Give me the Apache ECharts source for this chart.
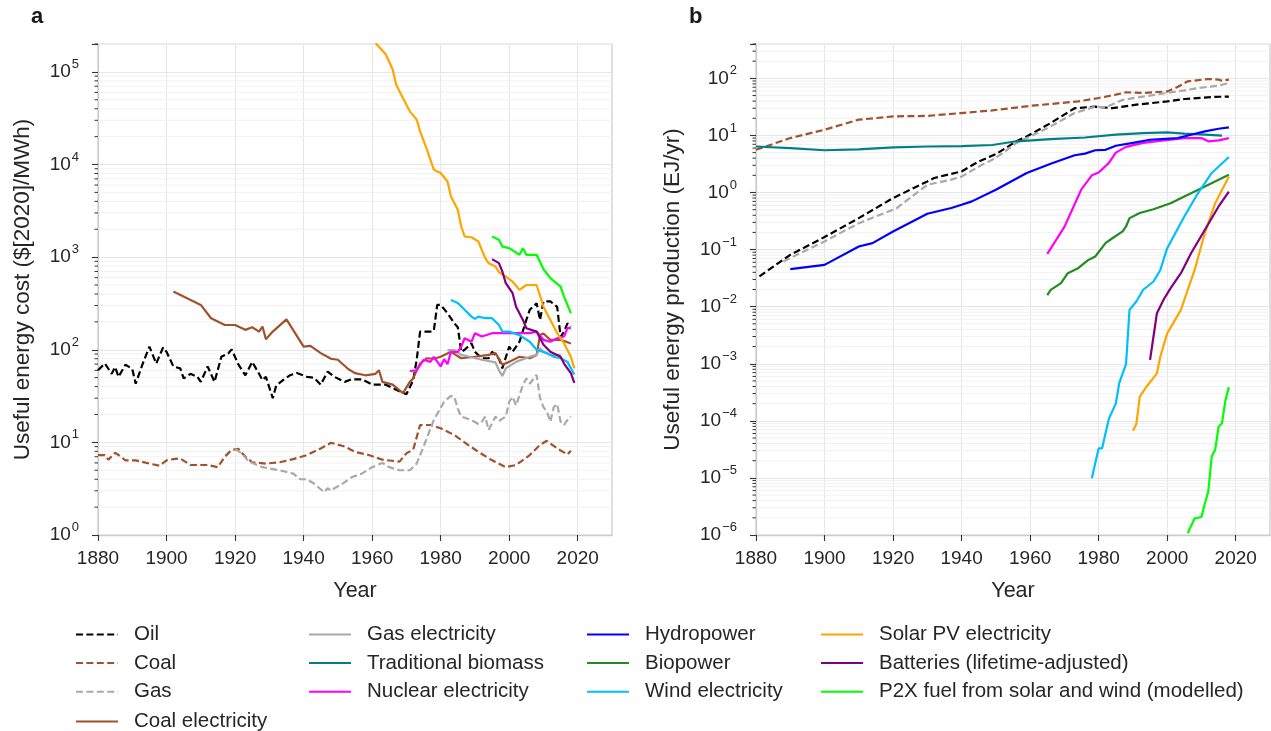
<!DOCTYPE html>
<html>
<head>
<meta charset="utf-8">
<script src="https://cdn.jsdelivr.net/npm/echarts@6/dist/echarts.min.js"></script>
<style>
html,body{margin:0;padding:0;background:#ffffff;}
#chart{width:1271px;height:731px;}
</style>
</head>
<body>
<div id="chart"></div>
<script>
// ---------------- Data ----------------
const xTickYears = [1880, 1900, 1920, 1940, 1960, 1980, 2000, 2020];

// Panel a: useful energy cost ($[2020]/MWh)
const costOil = [[1880,60],[1882,71],[1884,55],[1885,65],[1886,51],[1888,69],[1890,62],[1891,43],[1893,70],[1895,108],[1897,71],[1899,106],[1900,95],[1902,66],[1904,63],[1905,49],[1907,55],[1909,51],[1910,45],[1912,66],[1914,45],[1916,84],[1918,91],[1919,101],[1921,69],[1923,53],[1925,74],[1927,55],[1928,47],[1929,51],[1931,30],[1932,41],[1934,47],[1936,53],[1938,56],[1941,51],[1943,50],[1945,42],[1947,58],[1949,51],[1952,45],[1954,48],[1957,48],[1960,42],[1964,42],[1967,37],[1970,33],[1972,47],[1973,78],[1974,157],[1977,157],[1978,160],[1979,305],[1980,305],[1982,248],[1984,193],[1985,175],[1986,95],[1987,100],[1989,117],[1990,95],[1992,81],[1994,81],[1995,95],[1997,80],[1998,63],[2000,108],[2001,95],[2003,122],[2005,210],[2006,270],[2008,318],[2009,210],[2010,333],[2012,333],[2014,290],[2015,138],[2016,157],[2017,193],[2018,178]];
const costCoal = [[1880,7.3],[1882,7.3],[1883,6.5],[1885,7.7],[1886,7.3],[1888,6.4],[1891,6.4],[1895,5.9],[1898,5.6],[1900,6.4],[1902,6.6],[1904,6.7],[1907,5.7],[1912,5.7],[1915,5.4],[1917,7.0],[1919,8.3],[1921,8.5],[1923,7.0],[1925,6.1],[1929,5.9],[1933,6.1],[1937,6.6],[1941,7.3],[1945,8.6],[1948,9.9],[1952,9.0],[1955,7.9],[1959,7.3],[1963,6.5],[1968,6.2],[1970,7.6],[1972,8.4],[1974,15.4],[1977,15.4],[1980,14.2],[1984,12],[1988,9.4],[1991,7.9],[1995,6.4],[1999,5.4],[2002,5.7],[2006,7.3],[2009,9.4],[2011,10.4],[2014,8.6],[2017,7.4],[2018,8.1]];
const costGas = [[1920,8.5],[1922,7.6],[1924,6.2],[1928,5.4],[1933,5.0],[1937,4.6],[1939,4.0],[1941,4.0],[1943,3.6],[1946,2.9],[1947,3.2],[1948,3.0],[1949,3.2],[1951,3.5],[1954,4.2],[1957,4.6],[1960,5.4],[1963,6.0],[1965,5.4],[1968,5.0],[1971,5.0],[1973,5.9],[1975,9],[1978,17.4],[1981,27.5],[1983,31.7],[1984,31],[1985,23],[1986,19],[1989,17.4],[1991,15.8],[1992,16.7],[1993,19],[1994,13.6],[1996,19],[1997,17],[1999,19],[2000,27.5],[2001,31],[2002,25],[2004,41.6],[2005,49],[2006,43],[2008,53.5],[2009,30],[2010,24],[2011,21.5],[2012,16.7],[2013,24],[2014,26],[2015,16.7],[2016,15.4],[2017,17.5],[2018,19]];
const costCoalElec = [[1902,425],[1910,305],[1913,219],[1917,185],[1920,185],[1923,164],[1925,175],[1927,157],[1928,178],[1929,130],[1931,157],[1935,213],[1940,108],[1942,110],[1945,92],[1948,80],[1950,78],[1953,62],[1955,56],[1958,53],[1961,55],[1962,60],[1963,45],[1966,42],[1969,34],[1971,45],[1972,49],[1973,60],[1974,71],[1976,81],[1978,80],[1980,84],[1983,95],[1986,81],[1990,84],[1994,88],[1996,92],[1998,69],[2000,74],[2003,84],[2006,81],[2008,88],[2009,144],[2010,150],[2012,128],[2015,128],[2018,117]];
const costGasElec = [[1982,99],[1984,99],[1986,88],[1989,83],[1992,78],[1996,73],[1997,60],[1998,52],[1999,63],[2002,74],[2006,84],[2008,88],[2009,104],[2010,95],[2012,88],[2015,88]];
const costNuclear = [[1971,59],[1973,60],[1975,78],[1977,74],[1978,84],[1980,66],[1981,79],[1982,70],[1983,95],[1985,95],[1986,108],[1987,133],[1989,122],[1990,151],[1992,139],[1995,151],[1998,151],[2002,151],[2006,151],[2008,157],[2010,128],[2012,122],[2014,133],[2016,139],[2017,171],[2018,171]];
const costWind = [[1983,345],[1985,320],[1987,270],[1989,228],[1990,215],[1991,228],[1993,219],[1995,219],[1997,185],[1998,157],[2000,157],[2003,144],[2006,122],[2008,100],[2011,92],[2013,84],[2015,81],[2017,74],[2019,54]];
const costSolar = [[1961,205000],[1964,154000],[1966,106000],[1967,73000],[1969,52000],[1971,37500],[1973,30500],[1974,22800],[1976,14450],[1978,8790],[1980,8090],[1982,6560],[1983,4520],[1985,3240],[1986,2140],[1987,1670],[1989,1640],[1991,1475],[1993,975],[1994,861],[1996,791],[1997,690],[1999,617],[2001,545],[2003,443],[2005,500],[2008,500],[2010,292],[2012,210],[2014,151],[2016,117],[2018,84],[2019,63]];
const costBatteries = [[1995,951],[1997,861],[1998,700],[1999,523],[2001,408],[2002,292],[2004,210],[2005,171],[2008,157],[2010,113],[2012,95],[2015,84],[2016,71],[2018,56],[2019,44]];
const costP2X = [[1995,1670],[1997,1540],[1998,1300],[2000,1250],[2003,1060],[2004,1250],[2005,1060],[2008,1060],[2010,740],[2012,593],[2015,481],[2016,375],[2018,248]];

// Panel b: useful energy production (EJ/yr)
const prodOil = [[1881,0.034],[1890,0.081],[1900,0.166],[1910,0.356],[1920,0.8],[1930,1.56],[1932,1.8],[1940,2.34],[1945,3.5],[1950,4.7],[1956,7.9],[1959,9.6],[1966,16.5],[1973,30],[1979,32],[1984,30],[1991,34.6],[2000,39.5],[2005,43.5],[2013,47.2],[2018,48]];
const prodCoal = [[1880,5.6],[1890,9],[1900,12.6],[1910,18.9],[1920,21.6],[1930,22],[1940,24.7],[1949,27.5],[1960,33],[1969,37],[1974,39.5],[1980,45.3],[1985,51.8],[1988,57],[1993,55.5],[2000,59],[2003,70.6],[2006,88.7],[2012,97.5],[2015,95],[2016,91],[2018,95]];
const prodGas = [[1888,0.062],[1890,0.071],[1900,0.139],[1910,0.29],[1920,0.5],[1921,0.53],[1930,1.37],[1937,1.68],[1940,1.9],[1946,3.07],[1949,3.76],[1952,4.9],[1956,7.4],[1959,9],[1966,14.4],[1973,24.7],[1979,32],[1982,31],[1987,42],[1993,48],[2000,55.5],[2005,61.6],[2009,67.8],[2015,74.5],[2018,83]];
const prodBiomass = [[1880,6.4],[1890,6.0],[1900,5.5],[1910,5.7],[1920,6.2],[1930,6.4],[1940,6.5],[1949,6.8],[1956,7.9],[1966,8.65],[1976,9.2],[1985,10.3],[1993,11],[2000,11.3],[2005,10.8],[2011,10.3],[2016,9.9]];
const prodNuclear = [[1965,0.084],[1970,0.25],[1975,1.15],[1978,2.0],[1980,2.24],[1983,3.3],[1985,5.0],[1988,6.3],[1993,7.4],[1999,8.2],[2005,9],[2010,9],[2012,7.9],[2015,8.2],[2018,9]];
const prodHydro = [[1890,0.0455],[1900,0.054],[1910,0.1135],[1914,0.13],[1920,0.208],[1930,0.425],[1937,0.535],[1940,0.61],[1943,0.7],[1950,1.12],[1959,2.2],[1966,3.2],[1973,4.5],[1976,4.8],[1979,5.5],[1982,5.6],[1985,6.6],[1990,7.4],[1995,8.4],[2003,9],[2007,10.3],[2011,11.8],[2015,13.1],[2018,13.8]];
const prodBiopower = [[1965,0.016],[1966,0.0197],[1969,0.0258],[1971,0.0387],[1974,0.0473],[1977,0.066],[1979,0.0757],[1982,0.13],[1984,0.158],[1987,0.208],[1988,0.254],[1989,0.356],[1992,0.437],[1996,0.51],[2001,0.65],[2005,0.85],[2011,1.28],[2015,1.68],[2018,2.05]];
const prodWind = [[1978,9.9e-6],[1980,3.3e-5],[1981,3.3e-5],[1983,1.1e-4],[1985,2.0e-4],[1986,4.6e-4],[1988,1.0e-3],[1989,8.8e-3],[1991,0.0123],[1993,0.0198],[1996,0.0276],[1998,0.044],[2000,0.106],[2005,0.381],[2009,0.98],[2013,2.2],[2018,4.19]];
const prodSolar = [[1990,6.7e-5],[1991,8.8e-5],[1992,2.66e-4],[1994,4e-4],[1997,6.8e-4],[1998,1.34e-3],[2000,3.4e-3],[2004,8.8e-3],[2006,0.0198],[2008,0.044],[2011,0.195],[2014,0.65],[2018,1.9]];
const prodBatteries = [[1995,1.17e-3],[1996,3e-3],[1997,7.7e-3],[1999,0.0135],[2001,0.0211],[2004,0.0387],[2007,0.087],[2011,0.223],[2015,0.57],[2018,1.04]];
const prodP2X = [[2006,1.07e-6],[2008,1.96e-6],[2010,2.07e-6],[2011,3.6e-6],[2012,5.8e-6],[2013,2.4e-5],[2014,3.1e-5],[2015,7.9e-5],[2016,9.1e-5],[2017,2.3e-4],[2018,3.9e-4]];

// Legend columns (column 1 is split in two blocks so it never wraps)
const legendCol1 = ['Oil', 'Coal', 'Gas'];
const legendCol1b = ['Coal electricity'];
const legendCol2 = ['Gas electricity', 'Traditional biomass', 'Nuclear electricity'];
const legendCol3 = ['Hydropower', 'Biopower', 'Wind electricity'];
const legendCol4 = ['Solar PV electricity', 'Batteries (lifetime-adjusted)', 'P2X fuel from solar and wind (modelled)'];

// Minor log tick multipliers and decades
const minorMultipliers = [2, 3, 4, 5, 6, 7, 8, 9];
const decadesA = [0, 1, 2, 3, 4, 5];
const decadesB = [-6, -5, -4, -3, -2, -1, 0, 1, 2];

// ---------------- Styling ----------------
const FF = '"Liberation Sans", Arial, Helvetica, sans-serif';
const TXT = '#262626';
const colors = {
  'Oil': '#000000', 'Coal': '#a0522d', 'Gas': '#a9a9a9',
  'Coal electricity': '#a0522d', 'Gas electricity': '#a9a9a9',
  'Traditional biomass': '#008080', 'Nuclear electricity': '#ff00ff',
  'Hydropower': '#0000ff', 'Biopower': '#228b22', 'Wind electricity': '#00bfff',
  'Solar PV electricity': '#ffa500', 'Batteries (lifetime-adjusted)': '#800080',
  'P2X fuel from solar and wind (modelled)': '#00ff00'
};
const dashedNames = ['Oil', 'Coal', 'Gas'];

function lineSeries(name, data, gi) {
  const dashed = dashedNames.indexOf(name) >= 0;
  return {
    type: 'line', name: name, data: data,
    xAxisIndex: gi, yAxisIndex: gi * 2,
    symbol: 'none', showSymbol: false, clip: true, z: 3,
    lineStyle: { color: colors[name], width: 2.2, type: dashed ? [7, 3.4] : 'solid', cap: 'butt' },
    itemStyle: { color: colors[name] },
    emphasis: { disabled: true }
  };
}

function minorValues(decades, maxV) {
  const out = [];
  decades.forEach(d => minorMultipliers.forEach(m => {
    const v = m * Math.pow(10, d);
    if (v <= maxV * 1.0001) out.push([1880, v]);
  }));
  return out;
}

function minorSeries(gi, decades, maxV) {
  return {
    type: 'custom', name: '_minor' + gi, silent: true, z: 1,
    xAxisIndex: gi, yAxisIndex: gi * 2,
    data: minorValues(decades, maxV),
    renderItem: function (params, api) {
      const p = api.coord([api.value(0), api.value(1)]);
      const cs = params.coordSys;
      return {
        type: 'group', children: [
          { type: 'line', shape: { x1: cs.x, y1: p[1], x2: cs.x + cs.width, y2: p[1] }, style: { stroke: '#f1f1f1', lineWidth: 1 } },
          { type: 'line', shape: { x1: cs.x - 3.5, y1: p[1], x2: cs.x, y2: p[1] }, style: { stroke: '#333333', lineWidth: 1 } }
        ]
      };
    }
  };
}

function logLabel(v) {
  const e = Math.log10(v);
  const r = Math.round(e);
  if (Math.abs(e - r) > 1e-6) return '';
  return '{b|10}{s|' + (r < 0 ? '\u2212' + (-r) : String(r)) + '}';
}

function xAxisCfg(gi) {
  return {
    type: 'value', gridIndex: gi, min: 1880, max: 2030, interval: 20,
    axisLine: { show: true, onZero: false, lineStyle: { color: '#cccccc', width: 1.25 } },
    axisTick: { show: true, length: 6, customValues: xTickYears, lineStyle: { color: '#333333', width: 1.1 } },
    axisLabel: { customValues: xTickYears, margin: 14, fontSize: 19, color: TXT, fontFamily: FF,
      formatter: v => (v % 20 === 0 && v <= 2020) ? String(v) : '' },
    splitLine: { show: true, lineStyle: { color: '#e6e6e6', width: 1 } },
    name: 'Year', nameLocation: 'middle', nameGap: 45,
    nameTextStyle: { fontSize: 21.5, color: TXT, fontFamily: FF }
  };
}

function yAxisCfg(gi, minV, maxV, split, title, gap) {
  return {
    type: 'log', logBase: 10, gridIndex: gi, min: minV, max: maxV, splitNumber: split, position: 'left',
    axisLine: { show: true, lineStyle: { color: '#cccccc', width: 1.25 } },
    axisTick: { show: true, length: 6, lineStyle: { color: '#333333', width: 1.1 } },
    axisLabel: {
      margin: 19, formatter: logLabel, color: TXT, fontFamily: FF,
      rich: {
        b: { fontSize: 19, lineHeight: 28, color: TXT, fontFamily: FF },
        s: { fontSize: 13, lineHeight: 13, padding: [0, 0, 15, 1], color: TXT, fontFamily: FF }
      }
    },
    splitLine: { show: true, lineStyle: { color: '#e6e6e6', width: 1 } },
    minorTick: { show: false }, minorSplitLine: { show: false },
    name: title, nameLocation: 'middle', nameGap: gap,
    nameTextStyle: { fontSize: 22.5, color: TXT, fontFamily: FF }
  };
}

function legendCfg(data, left, top) {
  return {
    data: data, orient: 'vertical', left: left, top: top, padding: 0,
    itemWidth: 42, itemHeight: 14, itemGap: 7.6,
    itemStyle: { opacity: 0 },
    textStyle: { fontSize: 20.5, lineHeight: 16, color: TXT, fontFamily: FF, padding: [0, 0, 0, 11] },
    selectedMode: false
  };
}

const seriesList = [
  minorSeries(0, decadesA, 200000),
  minorSeries(1, decadesB, 400),
  lineSeries('Oil', costOil, 0),
  lineSeries('Coal', costCoal, 0),
  lineSeries('Gas', costGas, 0),
  lineSeries('Coal electricity', costCoalElec, 0),
  lineSeries('Gas electricity', costGasElec, 0),
  lineSeries('Nuclear electricity', costNuclear, 0),
  lineSeries('Wind electricity', costWind, 0),
  lineSeries('Solar PV electricity', costSolar, 0),
  lineSeries('Batteries (lifetime-adjusted)', costBatteries, 0),
  lineSeries('P2X fuel from solar and wind (modelled)', costP2X, 0),
  lineSeries('Oil', prodOil, 1),
  lineSeries('Coal', prodCoal, 1),
  lineSeries('Gas', prodGas, 1),
  lineSeries('Traditional biomass', prodBiomass, 1),
  lineSeries('Nuclear electricity', prodNuclear, 1),
  lineSeries('Hydropower', prodHydro, 1),
  lineSeries('Biopower', prodBiopower, 1),
  lineSeries('Wind electricity', prodWind, 1),
  lineSeries('Solar PV electricity', prodSolar, 1),
  lineSeries('Batteries (lifetime-adjusted)', prodBatteries, 1),
  lineSeries('P2X fuel from solar and wind (modelled)', prodP2X, 1)
];

const option = {
  animation: false,
  backgroundColor: '#ffffff',
  textStyle: { fontFamily: FF },
  graphic: [
    { type: 'text', left: 31, top: 6, style: { text: 'a', font: 'bold 22px ' + FF, fill: '#1a1a1a' } },
    { type: 'text', left: 689, top: 6, style: { text: 'b', font: 'bold 22px ' + FF, fill: '#1a1a1a' } }
  ],
  grid: [
    { left: 98, top: 44, width: 514, height: 491, show: true, borderColor: '#cccccc', borderWidth: 1.25, backgroundColor: 'transparent' },
    { left: 756, top: 44, width: 514, height: 491, show: true, borderColor: '#cccccc', borderWidth: 1.25, backgroundColor: 'transparent' }
  ],
  xAxis: [xAxisCfg(0), xAxisCfg(1)],
  yAxis: [
    yAxisCfg(0, 1, 200000, 5, 'Useful energy cost ($[2020]/MWh)', 64),
    { type: 'log', gridIndex: 0, min: 1, max: 200000, show: false },
    yAxisCfg(1, 1e-6, 400, 10, 'Useful energy production (EJ/yr)', 72),
    { type: 'log', gridIndex: 1, min: 1e-6, max: 400, show: false }
  ],
  legend: [
    legendCfg(legendCol1, 75, 624),
    legendCfg(legendCol1b, 75, 711),
    legendCfg(legendCol2, 308, 624),
    legendCfg(legendCol3, 586, 624),
    legendCfg(legendCol4, 820, 624)
  ],
  series: seriesList
};

const chart = echarts.init(document.getElementById('chart'), null, { renderer: 'canvas', width: 1271, height: 731 });
chart.setOption(option);
</script>
</body>
</html>
